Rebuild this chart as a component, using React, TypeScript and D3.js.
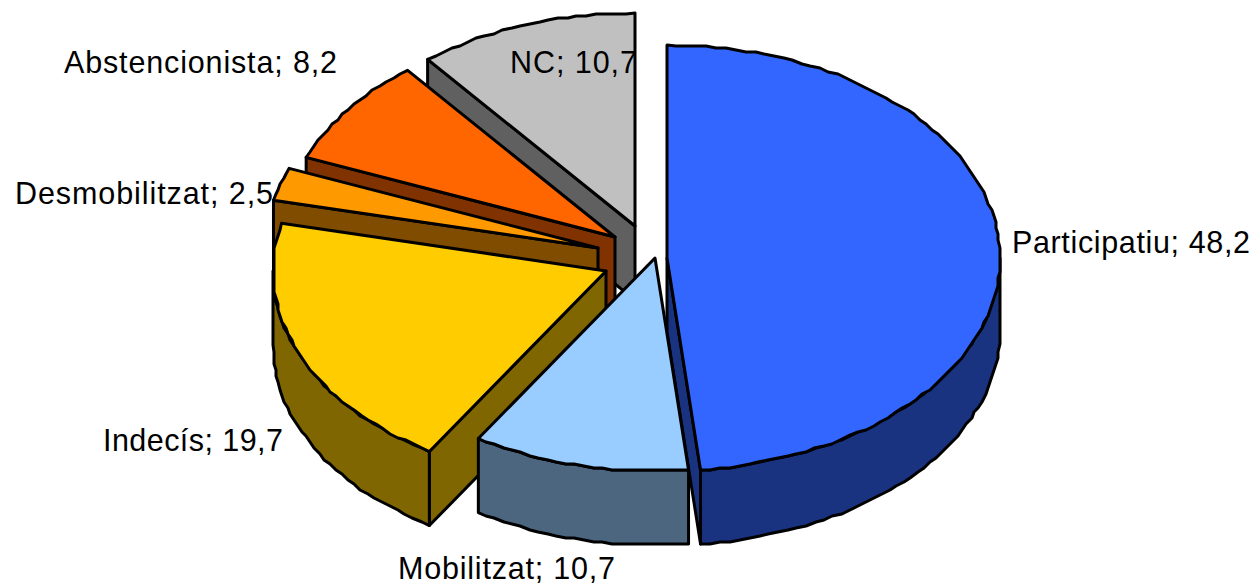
import React from "react";
import * as d3 from "d3";

const categories = ["Participatiu", "Mobilitzat", "Indecís", "Desmobilitzat", "Abstencionista", "NC"];
const values = [48.2, 10.7, 19.7, 2.5, 8.2, 10.7];
const valueLabels = ["48,2", "10,7", "19,7", "2,5", "8,2", "10,7"];
const topColors = ["#3366FF", "#99CCFF", "#FFCC00", "#FF9900", "#FF6600", "#C0C0C0"];
const sideColors = ["#1A3380", "#4D6680", "#806600", "#804D00", "#803300", "#606060"];

// layout (exploded slice apexes, label anchors)
const apexX = [667, 655, 606, 598, 615, 635];
const apexY = [258, 258, 271, 248, 237, 226];
const labelX = [1012, 398, 103, 15, 64, 510];
const labelY = [253, 579, 451, 204, 73, 73];
const labelW = [238, 217, 180, 258, 273, 127];
const drawOrder = [5, 4, 3, 2, 0, 1];

const W = 1253, H = 584;
const RX = 333, RY = 213, DEPTH = 74, SNAP = 2;

const unitX = d3.scaleLinear().domain([-1, 1]).range([-RX, RX]);
const unitY = d3.scaleLinear().domain([-1, 1]).range([-RY, RY]);
const line = d3.line<[number, number]>().x(d => d[0]).y(d => d[1]);

const slices = d3.pie<number>().sort(null).value(d => d)(values);
// the reference's projection pulls the front seam slightly towards the viewer
const rad = (d: number) => (d * Math.PI) / 180;
const warp = d3.scaleLinear().domain([0, rad(173.5), rad(212), rad(360)]).range([0, rad(174.2), rad(212), rad(360)]);

function rim(i: number, a: number): [number, number] {
  return [apexX[i] + unitX(Math.sin(a)), apexY[i] - unitY(Math.cos(a))];
}
// the outline of the reference is a slightly stepped curve: sample it coarsely and snap to a grid
function arcPts(i: number, a0: number, a1: number): [number, number][] {
  const n = Math.max(2, Math.ceil((a1 - a0) / 0.03));
  return d3.range(n + 1).map(k => {
    const p = rim(i, a0 + ((a1 - a0) * k) / n);
    if (k === 0 || k === n) return p;
    return [Math.round(p[0] / SNAP) * SNAP, Math.round(p[1] / SNAP) * SNAP] as [number, number];
  });
}
const down = (p: [number, number]): [number, number] => [p[0], p[1] + DEPTH];

function Slice({ i }: { i: number }) {
  const s = slices[i];
  const a0 = warp(s.startAngle), a1 = warp(s.endAngle);
  const apex: [number, number] = [apexX[i], apexY[i]];
  const faces: [number, number][][] = [];
  if (Math.sin(a0) < -1e-6) {
    const e = rim(i, a0);
    faces.push([apex, e, down(e), down(apex)]);
  }
  if (Math.sin(a1) > 1e-6) {
    const e = rim(i, a1);
    faces.push([apex, e, down(e), down(apex)]);
  }
  const w0 = Math.max(a0, Math.PI / 2), w1 = Math.min(a1, (3 * Math.PI) / 2);
  if (w1 > w0) {
    const top = arcPts(i, w0, w1);
    faces.push([...top, ...top.map(down).reverse()]);
  }
  const common = { stroke: "#000", strokeWidth: 3, strokeLinejoin: "round" as const };
  return (
    <g>
      {faces.map((f, k) => (
        <path key={k} d={line(f) + "Z"} fill={sideColors[i]} {...common} />
      ))}
      <path d={line([apex, ...arcPts(i, a0, a1)]) + "Z"} fill={topColors[i]} {...common} />
    </g>
  );
}

export default function App() {
  return (
    <svg width={W} height={H} viewBox={`0 0 ${W} ${H}`}
      style={{ position: "absolute", left: 0, top: 0, background: "#fff" }}>
      {drawOrder.map(i => <Slice key={i} i={i} />)}
      {categories.map((c, i) => (
        <text key={c} x={labelX[i]} y={labelY[i]} fontFamily="'Liberation Sans', Arial, sans-serif"
          fontSize={30.5} fill="#000" textLength={labelW[i]} lengthAdjust="spacing">
          {`${c}; ${valueLabels[i]}`}
        </text>
      ))}
    </svg>
  );
}
